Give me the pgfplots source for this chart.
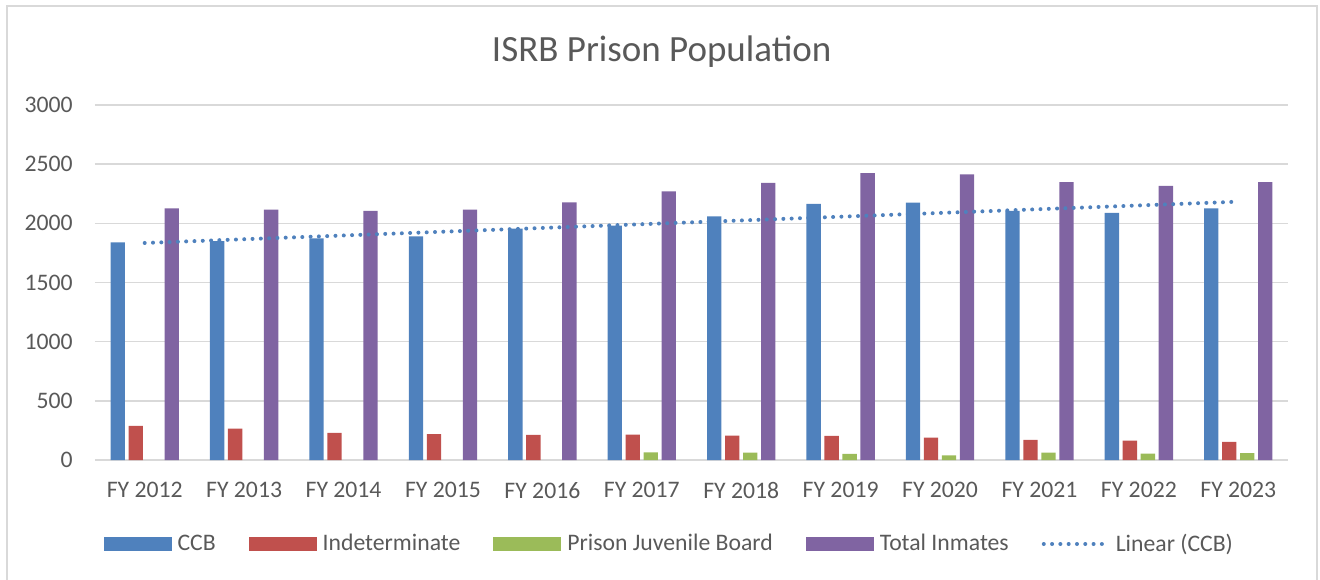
\documentclass[border=0pt]{standalone}
\usepackage{pgfplots}
\pgfplotsset{compat=1.18}
\usepackage{fontspec}
\setmainfont{Carlito}
\definecolor{ccb}{HTML}{4F81BD}
\definecolor{indet}{HTML}{C0504D}
\definecolor{pjb}{HTML}{9BBB59}
\definecolor{total}{HTML}{8064A2}
\definecolor{txt}{HTML}{595959}
\definecolor{gridc}{HTML}{D9D9D9}
\pgfplotsset{
  barleg/.style={legend image code/.code={\fill[##1] (0pt,-3.5pt) rectangle (34pt,3.5pt);}},
  lineleg/.style={legend image code/.code={\draw[##1] (1pt,0pt) -- (33pt,0pt);}},
}
\begin{document}
\begin{tikzpicture}
\useasboundingbox (0pt,0pt) rectangle (660pt,289.5pt);
\draw[gridc, line width=0.75pt] (3.5pt,-2pt) -- (3.5pt,286.5pt) -- (658.5pt,286.5pt) -- (658.5pt,-2pt);
\begin{axis}[
  at={(47.5pt,59.5pt)}, anchor=south west,
  scale only axis, width=596.5pt, height=177.5pt,
  xmin=-0.5, xmax=11.5, ymin=0, ymax=3000,
  axis line style={draw=none},
  tick style={draw=none},
  major tick length=0pt,
  ymajorgrids, grid style={gridc, line width=0.75pt},
  xtick={0,...,11},
  xticklabels={FY 2012,FY 2013,FY 2014,FY 2015,FY 2016,FY 2017,FY 2018,FY 2019,FY 2020,FY 2021,FY 2022,FY 2023},
  ytick={0,500,...,3000},
  /pgf/number format/assume math mode=true,
  /pgf/number format/1000 sep={},
  ticklabel style={font=\fontsize{11.85}{14}\selectfont, text=txt, inner sep=0pt},
  yticklabel style={anchor=east, xshift=-11pt},
  xticklabel style={anchor=north, yshift=-11pt},
  title={ISRB Prison Population},
  title style={at={(axis description cs:0.475,1.089)}, anchor=base, font=\fontsize{18.5}{22}\selectfont, text=txt, inner sep=0pt},
  legend columns=-1,
  legend style={at={(axis description cs:0.483,-0.2366)}, anchor=center, draw=none, fill=none,
    font=\fontsize{11.85}{14}\selectfont, text=txt,
    nodes={inner sep=3pt},
    /tikz/every even column/.append style={column sep=13.5pt}},
]
\addplot[ybar, bar width=7.15pt, bar shift=-13.5pt, fill=ccb, draw=none, barleg] coordinates {
(0,1839) (1,1850) (2,1873) (3,1890) (4,1955) (5,1980) (6,2059) (7,2164) (8,2175) (9,2105) (10,2088) (11,2127)};
\addlegendentry{CCB}
\addplot[ybar, bar width=7.15pt, bar shift=-4.5pt, fill=indet, draw=none, barleg] coordinates {
(0,288) (1,266) (2,229) (3,218) (4,212) (5,215) (6,206) (7,203) (8,189) (9,170) (10,164) (11,153)};
\addlegendentry{Indeterminate}
\addplot[ybar, bar width=7.15pt, bar shift=4.5pt, fill=pjb, draw=none, barleg] coordinates {
(5,65) (6,62) (7,51) (8,40) (9,62) (10,54) (11,59)};
\addlegendentry{Prison Juvenile Board}
\addplot[ybar, bar width=7.15pt, bar shift=13.5pt, fill=total, draw=none, barleg] coordinates {
(0,2127) (1,2116) (2,2105) (3,2116) (4,2178) (5,2271) (6,2342) (7,2424) (8,2413) (9,2348) (10,2317) (11,2348)};
\addlegendentry{Total Inmates}
\addplot[ccb, line width=2pt, dash pattern=on 0pt off 4.15pt, line cap=round, lineleg] coordinates {
(0,1834) (11,2183)};
\addlegendentry{Linear (CCB)}
\end{axis}
\end{tikzpicture}
\end{document}
